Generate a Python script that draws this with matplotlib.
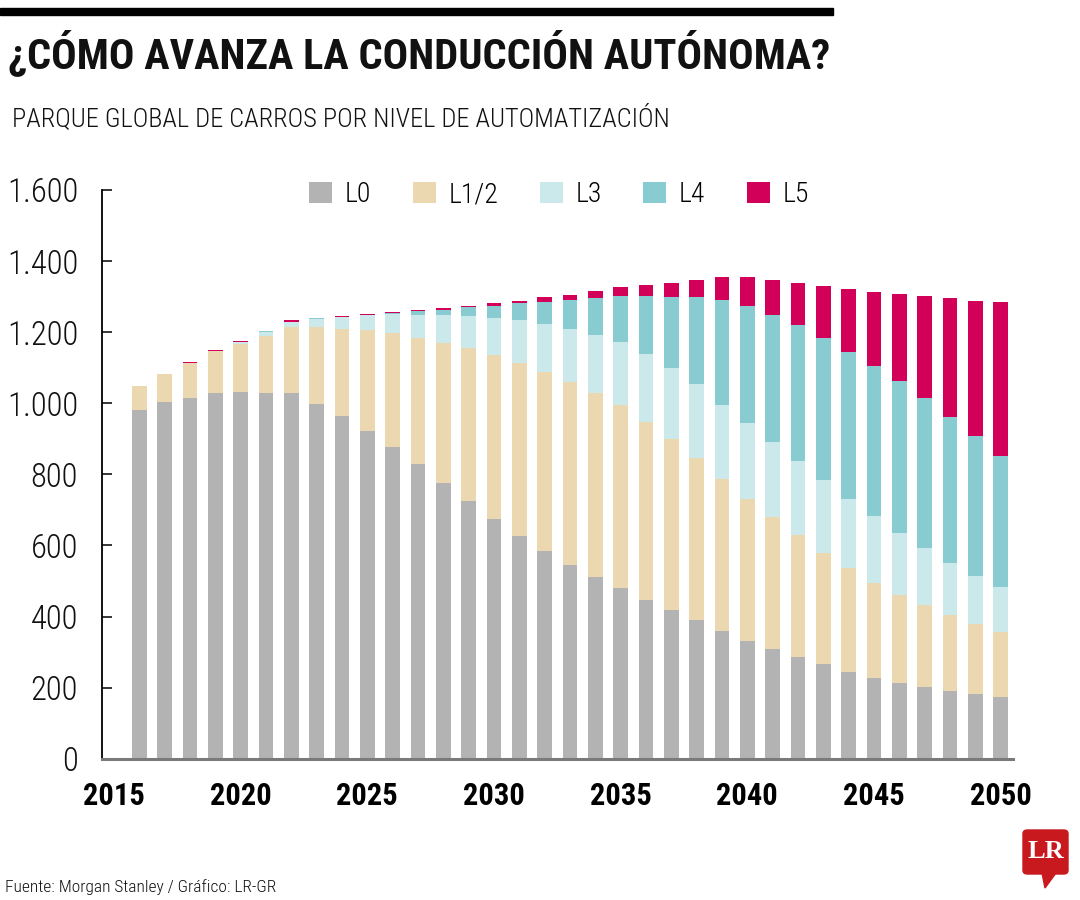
import matplotlib
matplotlib.use("Agg")
import matplotlib.pyplot as plt
from matplotlib import font_manager
from matplotlib.patches import Rectangle, FancyBboxPatch, Polygon
import numpy as np

# ---------------- data ----------------
years = list(range(2016, 2051))
L0 = [981, 1003, 1015, 1029, 1031, 1029, 1029, 998, 964, 923, 878, 829, 777, 725, 674,
      626, 584, 545, 511, 479, 446, 418, 390, 359, 331, 308, 287, 266, 245, 228,
      214, 202, 191, 182, 174]
L12 = [67, 80, 98, 117, 136, 161, 185, 216, 246, 283, 319, 356, 393, 430, 461,
       487, 504, 515, 517, 515, 502, 482, 457, 428, 401, 371, 342, 314, 291, 267,
       247, 230, 212, 197, 182]
L3 = [0, 0, 1, 1, 5, 11, 14, 24, 32, 41, 53, 63, 77, 90, 105,
      120, 135, 150, 165, 177, 190, 198, 206, 208, 213, 212, 208, 204, 194, 187,
      173, 160, 147, 135, 127]
L4 = [0, 0, 0.5, 1, 1, 1, 2, 2, 2, 2, 4, 11, 16, 25, 35,
      48, 63, 81, 104, 130, 163, 202, 245, 296, 330, 358, 382, 399, 415, 422,
      428, 422, 412, 393, 370]
L5 = [0, 0, 1, 1, 1, 1, 3, 1, 1, 1, 2, 4, 4, 4, 7,
      7, 13, 14, 18, 26, 31, 39, 50, 63, 80, 98, 120, 146, 176, 209,
      244, 288, 333, 380, 432]
series_names = ["L0", "L1/2", "L3", "L4", "L5"]
y_ticks = [0, 200, 400, 600, 800, 1000, 1200, 1400, 1600]
x_ticks = [2015, 2020, 2025, 2030, 2035, 2040, 2045, 2050]

title = "¿CÓMO AVANZA LA CONDUCCIÓN AUTÓNOMA?"
subtitle = "PARQUE GLOBAL DE CARROS POR NIVEL DE AUTOMATIZACIÓN"
source = "Fuente: Morgan Stanley / Gráfico: LR-GR"

colors = ["#B3B3B3", "#EBD8B1", "#CBE8EB", "#88CCD2", "#D3005A"]

# ---------------- fonts ----------------
avail = {f.name for f in font_manager.fontManager.ttflist}
cond = None
for cand in ["Roboto Condensed", "Liberation Sans Narrow", "Open Sans Condensed", "DejaVu Sans"]:
    if cand in avail:
        cond = cand
        break
FAM = [cond, "DejaVu Sans"]
plt.rcParams["font.family"] = FAM
stretch = "condensed" if cond == "DejaVu Sans" else "normal"

W, H = 1080, 900
fig = plt.figure(figsize=(W / 100, H / 100), dpi=100)

def fx(px):
    return px / W

def fy(py):
    return 1 - py / H

ax = fig.add_axes([fx(101.7), fy(758.7), fx(1013) - fx(101.7), fy(190) - fy(758.7)])

data = [L0, L12, L3, L4, L5]
bottom = np.zeros(len(years))
handles = []
for vals, name, col in zip(data, series_names, colors):
    b = ax.bar(years, vals, bottom=bottom, width=0.58, color=col, label=name, linewidth=0)
    handles.append(b)
    bottom = bottom + np.array(vals, dtype=float)

ax.set_xlim(2014.52, 2050.49)
ax.set_ylim(0, 1600)
ax.set_yticks(y_ticks)
ax.set_yticklabels([f"{v:,}".replace(",", ".") for v in y_ticks])
ax.set_xticks(x_ticks)
ax.set_xticklabels([str(v) for v in x_ticks])

for s in ["top", "right"]:
    ax.spines[s].set_visible(False)
ax.spines["left"].set_color("black")
ax.spines["left"].set_linewidth(1.3)
ax.spines["bottom"].set_color("#7A7A7A")
ax.spines["bottom"].set_linewidth(2.2)

ax.tick_params(axis="y", direction="in", length=7.5, width=1.1, color="black",
               pad=17, labelsize=23.5, labelcolor="#111111")
ax.tick_params(axis="x", length=0, pad=16, labelsize=22, labelcolor="black")
for lab in ax.get_yticklabels():
    lab.set_fontweight("light")
    lab.set_fontstretch(stretch)
for lab in ax.get_xticklabels():
    lab.set_fontweight("bold")
    lab.set_fontstretch(stretch)

leg = ax.legend(handles=handles, labels=series_names, ncol=5, loc="center",
                bbox_to_anchor=(fx(559), fy(195)), bbox_transform=fig.transFigure,
                frameon=False, fontsize=20, handlelength=0.83, handleheight=0.8,
                handletextpad=0.45, columnspacing=1.5, borderpad=0)
for t in leg.get_texts():
    t.set_fontweight("light")
    t.set_fontstretch(stretch)

# header / footer
fig.patches.append(Rectangle((0, fy(15)), fx(833), 7 / H, transform=fig.transFigure,
                             color="black", zorder=5))
t_title = fig.text(fx(8), fy(68), title, fontsize=30, fontweight="bold",
                   fontstretch=stretch, va="baseline", ha="left", color="#111111")
t_sub = fig.text(fx(12), fy(126), subtitle, fontsize=20, fontweight="light",
                 fontstretch=stretch, va="baseline", ha="left", color="#111111")
t_src = fig.text(fx(5), fy(892), source, fontsize=13, fontweight="light",
                 fontstretch=stretch, va="baseline", ha="left", color="#111111")

# LR logo
fig.patches.append(FancyBboxPatch((fx(1023), fy(874)), fx(1068) - fx(1023), (874 - 830) / H,
                                  boxstyle="round,pad=0,rounding_size=0.004",
                                  transform=fig.transFigure, color="#C8191E", zorder=5))
fig.patches.append(Polygon([(fx(1042), fy(873)), (fx(1056), fy(873)), (fx(1045), fy(888))],
                           closed=True, transform=fig.transFigure, color="#C8191E", zorder=5))
fig.text(fx(1045.5), fy(852), "LR", fontsize=19, fontweight="bold",
         family=["Liberation Serif", "DejaVu Serif"], color="white",
         ha="center", va="center", zorder=6)

# fit text widths to the reference
fig.canvas.draw()
r = fig.canvas.get_renderer()
for t, target in [(t_title, 820), (t_sub, 660), (t_src, 270)]:
    w = t.get_window_extent(r).width
    t.set_fontsize(t.get_fontsize() * target / w)

fig.savefig("out.png", dpi=100)
